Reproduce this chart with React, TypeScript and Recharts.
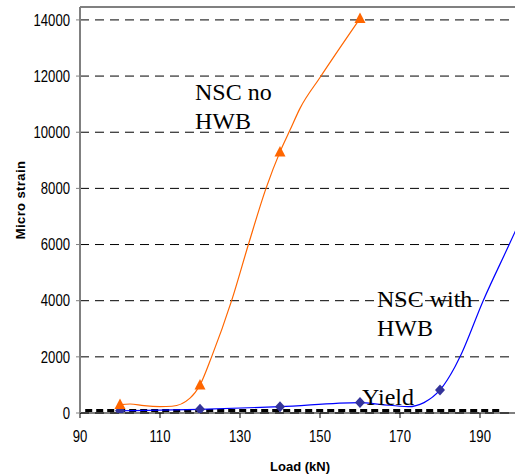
import {
  ComposedChart,
  Line,
  Scatter,
  XAxis,
  YAxis,
  CartesianGrid,
  ReferenceLine,
  ReferenceDot,
} from 'recharts'

// measured points (markers)
const markLoadNoHwb = [100, 120, 140, 160]
const markStrainNoHwb = [300, 1000, 9300, 14050]
const markLoadWithHwb = [100, 120, 140, 160, 180]
const markStrainWithHwb = [80, 130, 225, 370, 820]

// smoothed curves
const curveLoadNoHwb = [100, 102.5, 106, 110, 113, 117.5, 120, 122.9, 127.9, 132.1, 136.5, 140, 142.5, 145, 150, 160]
const curveStrainNoHwb = [300, 320, 260, 230, 240, 530, 1000, 2000, 4000, 6000, 8000, 9300, 10075, 10850, 11950, 14050]
const curveLoadWithHwb = [100, 120, 140, 160, 165, 172, 176, 180, 183.75, 185, 190.8, 197.3, 198.75, 200]
const curveStrainWithHwb = [80, 130, 225, 370, 310, 225, 370, 820, 1650, 2000, 4000, 6000, 6450, 6840]

// yield level
const yieldLoad = [91.3, 194.8]
const yieldStrain = [90, 90]

const xTicks = [90, 110, 130, 150, 170, 190]
const yTicks = [0, 2000, 4000, 6000, 8000, 10000, 12000, 14000]
const yMax = 14460

// in-chart labels: text lines, anchor load, anchor strain
const noteLines = [['NSC no', 'HWB'], ['NSC with', 'HWB'], ['Yield']]
const noteLoad = [118.75, 164.25, 160.5]
const noteStrain = [11148, 3775, 285]

const pairs = (xs: number[], ys: number[]) => xs.map((x, i) => ({ x, y: ys[i] }))

const sans = "'Liberation Sans', Arial, sans-serif"
const serif = "'Liberation Serif', 'Times New Roman', serif"

// narrow tick text (the original uses Arial Narrow)
const NarrowTick = (p: any) => {
  const { x, y, payload, textAnchor, vertical } = p
  const dy = vertical ? '0.355em' : '0.71em'
  return (
    <text
      x={x}
      y={y}
      dy={dy}
      textAnchor={textAnchor}
      fill="#000"
      fontSize={16}
      fontFamily={sans}
      transform={`translate(${x} 0) scale(0.82 1) translate(${-x} 0)`}
    >
      {payload.value}
    </text>
  )
}

const Triangle = (p: any) => {
  const { cx, cy } = p
  if (cx == null || cy == null) return null
  return <polygon points={`${cx},${cy - 6} ${cx - 5.5},${cy + 4.5} ${cx + 5.5},${cy + 4.5}`} fill="#FF6600" />
}

const Diamond = (p: any) => {
  const { cx, cy } = p
  if (cx == null || cy == null) return null
  return <polygon points={`${cx},${cy - 5.5} ${cx + 5},${cy} ${cx},${cy + 5.5} ${cx - 5},${cy}`} fill="#333399" />
}

const YTitle = (props: any) => {
  const vb = props.viewBox || { x: 0, y: 7, width: 80, height: 406 }
  const cx = vb.x + 20
  const cy = vb.y + vb.height / 2 - 10
  return (
    <text
      x={cx}
      y={cy}
      transform={`rotate(-90 ${cx} ${cy})`}
      textAnchor="middle"
      dominantBaseline="central"
      fontFamily={sans}
      fontWeight="bold"
      fontSize={13}
      letterSpacing={0.4}
      fill="#000"
    >
      Micro strain
    </text>
  )
}

export default function App() {
  return (
    <div style={{ position: 'absolute', left: 0, top: 0, width: 515, height: 476, overflow: 'hidden', background: '#fff' }}>
      <ComposedChart width={520} height={476} margin={{ top: 7, right: 0, bottom: 0, left: 0 }}>
        <CartesianGrid horizontal vertical={false} stroke="#000" strokeDasharray="9 6" />
        <XAxis
          dataKey="x"
          type="number"
          domain={[90, 200]}
          ticks={xTicks}
          allowDataOverflow
          height={63}
          tickSize={5}
          tickMargin={13}
          axisLine={{ stroke: '#000' }}
          tickLine={{ stroke: '#000' }}
          tick={<NarrowTick />}
          label={{ value: 'Load (kN)', position: 'insideBottom', offset: 5, fill: '#000', fontSize: 13, fontWeight: 'bold', fontFamily: sans }}
        />
        <YAxis
          dataKey="y"
          type="number"
          domain={[0, yMax]}
          ticks={yTicks}
          allowDataOverflow
          width={80}
          tickSize={4}
          tickMargin={6}
          axisLine={{ stroke: '#808080', strokeWidth: 2 }}
          tickLine={{ stroke: '#808080' }}
          tick={<NarrowTick vertical />}
          label={<YTitle />}
        />
        <ReferenceLine y={yMax} stroke="#808080" strokeWidth={2} ifOverflow="visible" />
        <Line
          data={pairs(yieldLoad, yieldStrain)}
          dataKey="y"
          type="linear"
          stroke="#000"
          strokeWidth={3}
          strokeDasharray="7 4"
          dot={false}
          isAnimationActive={false}
        />
        <Line
          data={pairs(curveLoadWithHwb, curveStrainWithHwb)}
          dataKey="y"
          type="monotone"
          stroke="#0000FF"
          strokeWidth={1.2}
          dot={false}
          isAnimationActive={false}
        />
        <Line
          data={pairs(curveLoadNoHwb, curveStrainNoHwb)}
          dataKey="y"
          type="monotone"
          stroke="#FF6600"
          strokeWidth={1.2}
          dot={false}
          isAnimationActive={false}
        />
        <Scatter data={pairs(markLoadWithHwb, markStrainWithHwb)} dataKey="y" shape={Diamond} isAnimationActive={false} />
        <Scatter data={pairs(markLoadNoHwb, markStrainNoHwb)} dataKey="y" shape={Triangle} isAnimationActive={false} />
        {noteLines.map((lines, i) => (
          <ReferenceDot
            key={i}
            x={noteLoad[i]}
            y={noteStrain[i]}
            r={1}
            ifOverflow="visible"
            shape={(p: any) => (
              <text x={p.cx} y={p.cy} fontFamily={serif} fontSize={24} fill="#000">
                {lines.map((t, j) => (
                  <tspan key={j} x={p.cx} dy={j === 0 ? 0 : 29}>
                    {t}
                  </tspan>
                ))}
              </text>
            )}
          />
        ))}
      </ComposedChart>
    </div>
  )
}
